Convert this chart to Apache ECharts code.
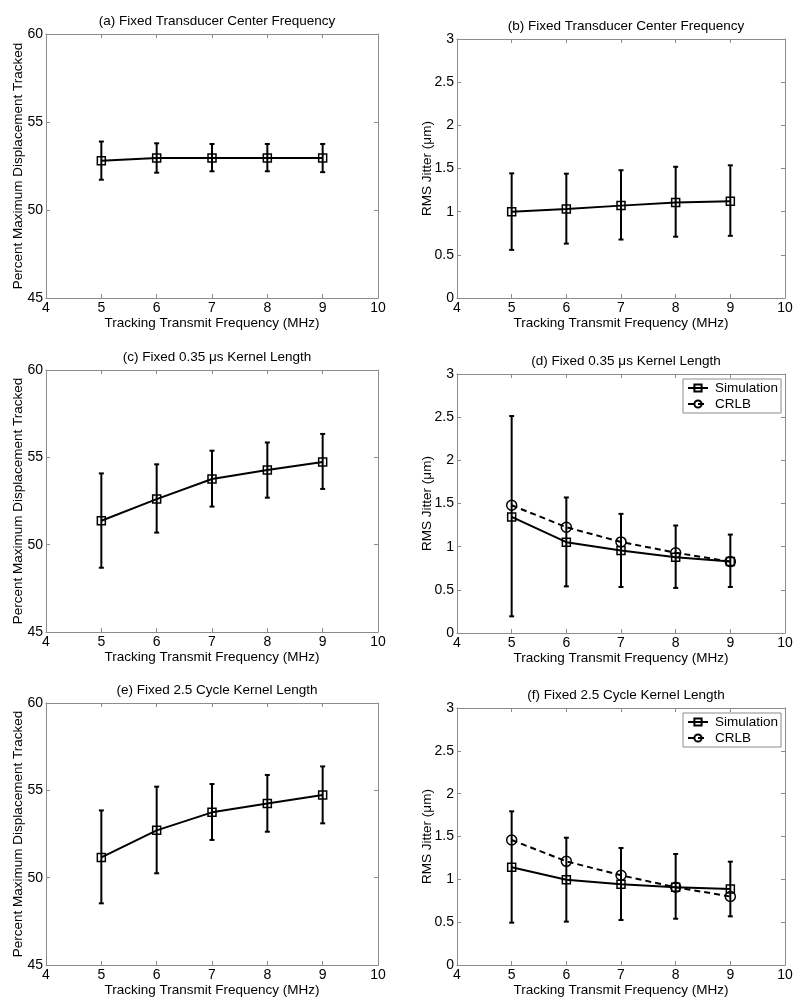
<!DOCTYPE html>
<html>
<head>
<meta charset="utf-8">
<script src="https://cdn.jsdelivr.net/npm/echarts@6/dist/echarts.min.js"></script>
<style>
  html, body { margin: 0; padding: 0; background: #fff; }
  #chart { width: 800px; height: 1005px; }
</style>
</head>
<body>
<div id="chart"></div>
<script>
// tracking transmit frequency (MHz)
var freqs = [5, 6, 7, 8, 9];
var xTicks = [4, 5, 6, 7, 8, 9, 10];

// (a) percent tracked, fixed transducer center frequency
var pctA = [52.8, 52.95, 52.95, 52.95, 52.95];
var pctALow = [51.72, 52.12, 52.2, 52.2, 52.15];
var pctAHigh = [53.89, 53.79, 53.75, 53.75, 53.75];

// (b) jitter, fixed transducer center frequency
var jitB = [1.0, 1.03, 1.07, 1.107, 1.122];
var jitBLow = [0.557, 0.63, 0.677, 0.71, 0.72];
var jitBHigh = [1.444, 1.44, 1.48, 1.52, 1.537];

// (c) percent tracked, fixed 0.35 us kernel
var pctC = [51.37, 52.61, 53.76, 54.27, 54.73];
var pctCLow = [48.68, 50.69, 52.18, 52.69, 53.19];
var pctCHigh = [54.08, 54.6, 55.38, 55.85, 56.34];

// (d) jitter, fixed 0.35 us kernel
var jitD = [1.345, 1.052, 0.955, 0.878, 0.827];
var jitDLow = [0.193, 0.54, 0.533, 0.522, 0.533];
var jitDHigh = [2.513, 1.57, 1.38, 1.245, 1.14];
var crlbD = [1.48, 1.225, 1.055, 0.93, 0.827];

// (e) percent tracked, fixed 2.5 cycle kernel
var pctE = [51.16, 52.71, 53.74, 54.24, 54.73];
var pctELow = [48.53, 50.25, 52.16, 52.63, 53.11];
var pctEHigh = [53.85, 55.21, 55.36, 55.88, 56.37];

// (f) jitter, fixed 2.5 cycle kernel
var jitF = [1.14, 0.995, 0.942, 0.907, 0.887];
var jitFLow = [0.494, 0.506, 0.525, 0.54, 0.568];
var jitFHigh = [1.794, 1.486, 1.366, 1.296, 1.206];
var crlbF = [1.459, 1.21, 1.047, 0.907, 0.80];

var titles = [
  '(a) Fixed Transducer Center Frequency',
  '(b) Fixed Transducer Center Frequency',
  '(c) Fixed 0.35 μs Kernel Length',
  '(d) Fixed 0.35 μs Kernel Length',
  '(e) Fixed 2.5 Cycle Kernel Length',
  '(f) Fixed 2.5 Cycle Kernel Length'
];
var pctName = 'Percent Maximum Displacement Tracked';
var jitName = 'RMS Jitter (μm)';
var xName = 'Tracking Transmit Frequency (MHz)';

var FONT = '"Liberation Sans", Arial, Helvetica, sans-serif';
var AXC = '#8c8c8c';

var grids = [
  { left: 46, top: 34, width: 332, height: 264 },
  { left: 457, top: 39, width: 328, height: 259 },
  { left: 46, top: 370, width: 332, height: 262 },
  { left: 457, top: 374, width: 328, height: 259 },
  { left: 46, top: 703, width: 332, height: 262 },
  { left: 457, top: 708, width: 328, height: 257 }
];

var panels = [
  { y: pctA, lo: pctALow, hi: pctAHigh, pct: true },
  { y: jitB, lo: jitBLow, hi: jitBHigh, pct: false },
  { y: pctC, lo: pctCLow, hi: pctCHigh, pct: true },
  { y: jitD, lo: jitDLow, hi: jitDHigh, pct: false, crlb: crlbD },
  { y: pctE, lo: pctELow, hi: pctEHigh, pct: true },
  { y: jitF, lo: jitFLow, hi: jitFHigh, pct: false, crlb: crlbF }
];

var option = {
  backgroundColor: '#fff',
  animation: false,
  textStyle: { fontFamily: FONT },
  title: [],
  grid: [],
  xAxis: [],
  yAxis: [],
  legend: [],
  series: []
};

function errorBars(i, p) {
  var d = [];
  for (var k = 0; k < freqs.length; k++) d.push([freqs[k], p.lo[k], p.hi[k]]);
  return {
    type: 'custom',
    xAxisIndex: 2 * i,
    yAxisIndex: 2 * i,
    data: d,
    z: 2,
    renderItem: function (params, api) {
      var top = api.coord([api.value(0), api.value(2)]);
      var bot = api.coord([api.value(0), api.value(1)]);
      var w = 2.5;
      var st = { stroke: '#000', lineWidth: 2 };
      return {
        type: 'group',
        children: [
          { type: 'line', shape: { x1: top[0], y1: top[1], x2: bot[0], y2: bot[1] }, style: st },
          { type: 'line', shape: { x1: top[0] - w, y1: top[1], x2: top[0] + w, y2: top[1] }, style: st },
          { type: 'line', shape: { x1: bot[0] - w, y1: bot[1], x2: bot[0] + w, y2: bot[1] }, style: st }
        ]
      };
    }
  };
}

function pairs(ys) {
  var out = [];
  for (var k = 0; k < freqs.length; k++) out.push([freqs[k], ys[k]]);
  return out;
}

for (var i = 0; i < 6; i++) {
  var g = grids[i];
  var p = panels[i];
  option.grid.push({ left: g.left, top: g.top, width: g.width, height: g.height, show: false });
  option.title.push({
    text: titles[i],
    left: g.left + g.width / 2,
    top: g.top - 25,
    textAlign: 'center',
    textStyle: { fontFamily: FONT, fontSize: 13.5, fontWeight: 'normal', color: '#000' }
  });

  var ax = {
    type: 'value', gridIndex: i, min: 4, max: 10, interval: 1,
    axisLine: { show: true, onZero: false, lineStyle: { color: AXC, width: 1 } },
    axisTick: { show: true, inside: true, length: 4, lineStyle: { color: AXC } },
    splitLine: { show: false }
  };
  option.xAxis.push(Object.assign({}, ax, {
    position: 'bottom',
    axisLabel: { color: '#000', fontSize: 14, margin: 3, fontFamily: FONT, showMinLabel: true, showMaxLabel: true },
    name: xName, nameLocation: 'middle', nameGap: 18,
    nameTextStyle: { color: '#000', fontSize: 13.5, fontFamily: FONT }
  }));
  option.xAxis.push(Object.assign({}, ax, { position: 'top', axisLabel: { show: false } }));

  var yMin = p.pct ? 45 : 0, yMax = p.pct ? 60 : 3, yInt = p.pct ? 5 : 0.5;
  var ay = {
    type: 'value', gridIndex: i, min: yMin, max: yMax, interval: yInt,
    axisLine: { show: true, onZero: false, lineStyle: { color: AXC, width: 1 } },
    axisTick: { show: true, inside: true, length: 4, lineStyle: { color: AXC } },
    splitLine: { show: false }
  };
  option.yAxis.push(Object.assign({}, ay, {
    position: 'left',
    axisLabel: { color: '#000', fontSize: 14, margin: 3, fontFamily: FONT, showMinLabel: true, showMaxLabel: true },
    name: p.pct ? pctName : jitName, nameLocation: 'middle', nameGap: p.pct ? 21 : 23,
    nameMoveOverlap: false,
    nameTextStyle: { color: '#000', fontSize: 13.5, fontFamily: FONT }
  }));
  option.yAxis.push(Object.assign({}, ay, { position: 'right', axisLabel: { show: false } }));

  option.series.push(errorBars(i, p));
  option.series.push({
    name: 'Simulation',
    type: 'line',
    xAxisIndex: 2 * i, yAxisIndex: 2 * i,
    data: pairs(p.y),
    symbol: 'rect', symbolSize: 8,
    z: 3,
    lineStyle: { color: '#000', width: 2 },
    itemStyle: { color: 'rgba(0,0,0,0)', borderColor: '#000', borderWidth: 1.5 }
  });
  if (p.crlb) {
    option.series.push({
      name: 'CRLB',
      type: 'line',
      xAxisIndex: 2 * i, yAxisIndex: 2 * i,
      data: pairs(p.crlb),
      symbol: 'circle', symbolSize: 10,
      z: 3,
      lineStyle: { color: '#000', width: 2, type: [6, 4] },
      itemStyle: { color: 'rgba(0,0,0,0)', borderColor: '#000', borderWidth: 1.5 }
    });
    option.legend.push({
      data: ['Simulation', 'CRLB'],
      orient: 'vertical',
      left: 683, top: g.top + 5,
      itemWidth: 20, itemHeight: 9, itemGap: 2,
      padding: [2, 3, 2, 4],
      selectedMode: false,
      borderColor: AXC, borderWidth: 1,
      backgroundColor: '#fff',
      textStyle: { color: '#000', fontSize: 13.5, fontFamily: FONT, padding: [0, 0, 0, 2] }
    });
  }
}

var chart = echarts.init(document.getElementById('chart'), null, { renderer: 'canvas' });
chart.setOption(option);
</script>
</body>
</html>
